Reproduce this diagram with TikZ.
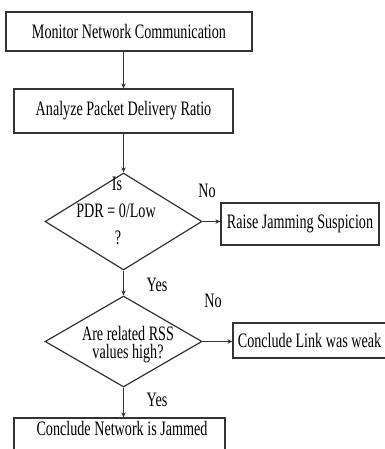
\documentclass[tikz,border=0pt]{standalone}
\usepackage{fontspec}
\setmainfont[FakeStretch=0.69]{Liberation Serif}
\usetikzlibrary{shapes.geometric,arrows.meta}
\definecolor{linec}{HTML}{333333}

\begin{document}
\begin{tikzpicture}[x=1pt,y=-1pt,
  every node/.style={font=\fontsize{20.5}{17}\selectfont, text=black},
  procbox/.style={draw=linec, line width=1.2pt, rectangle, inner sep=0pt},
  decision/.style={draw=linec, line width=1.2pt, diamond, inner sep=0pt},
  txt/.style={inner sep=0pt},
  flow/.style={draw=linec, line width=1pt, -{Stealth[length=5pt,width=4.5pt]}}
]
\useasboundingbox (0,0) rectangle (384,449);

% process steps
\node[procbox, minimum width=246, minimum height=39] (mon) at (129,31.5) {Monitor Network Communication};
\node[procbox, minimum width=219, minimum height=44] (pdr) at (123.5,111) {Analyze Packet Delivery Ratio};

% first decision
\node[decision, minimum width=157, minimum height=97] (d1) at (123.5,221.5) {};
\node[txt] (d1a) at (117,184) {Is};
\node[txt] (d1b) at (116,211) {PDR = 0/Low};
\node[txt] (d1c) at (118,238) {?};
\node[procbox, minimum width=158, minimum height=42] (raise) at (300,224) {Raise Jamming Suspicion};

% second decision
\node[decision, minimum width=157, minimum height=91] (d2) at (123.5,341.5) {};
\node[txt, align=center, font=\fontsize{20.5}{18.5}\selectfont] (d2t) at (128,344.5) {Are related RSS\\values high?};
\node[procbox, minimum width=153, minimum height=35] (weak) at (309.5,340.5) {Conclude Link was weak};

% final step (runs past the lower edge)
\node[procbox, minimum width=211, minimum height=44] (jam) at (119.5,440) {};
\node[txt] (jamt) at (122,428.5) {Conclude Network is Jammed};

% branch labels
\node[txt] (no1) at (207,191) {No};
\node[txt] (yes1) at (157,285) {Yes};
\node[txt] (no2) at (213,301) {No};
\node[txt] (yes2) at (157,400) {Yes};

% connectors
\draw[flow] (mon.south -| pdr.north) -- (pdr.north);
\draw[flow] (pdr.south) -- (d1.north);
\draw[flow] (d1.east) -- (raise.west |- d1.east);
\draw[flow] (d1.south) -- (d2.north);
\draw[flow] (d2.east) -- (weak.west |- d2.east);
\draw[flow] (d2.south) -- (jam.north -| d2.south);
\end{tikzpicture}
\end{document}
